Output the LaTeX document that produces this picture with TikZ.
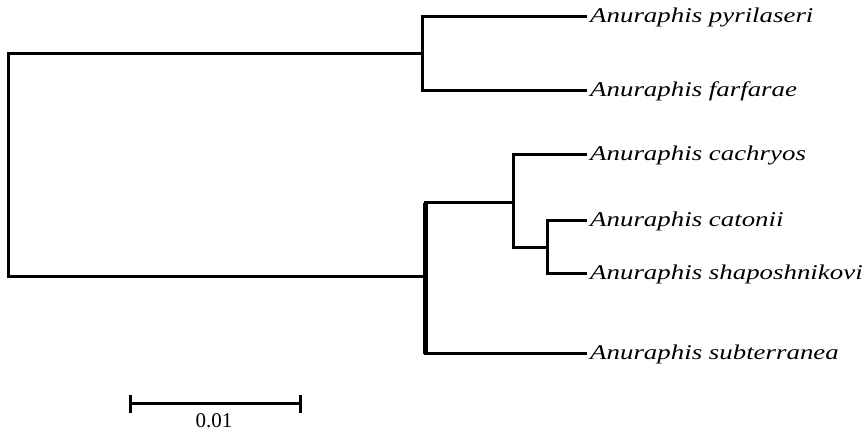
\documentclass[tikz,border=0pt]{standalone}
\usepackage{fontspec}
\setmainfont{Liberation Serif}
\newfontfamily\leaffont[FakeStretch=1.28]{Liberation Serif}
\begin{document}
\begin{tikzpicture}[x=1pt,y=-1pt,
  branch/.style={line width=3pt,line cap=rect},
  leaf/.style={anchor=west,inner sep=0pt,font=\leaffont\fontsize{21}{24}\selectfont\itshape},
  scalelab/.style={inner sep=0pt,font=\fontsize{21}{24}\selectfont}]
\useasboundingbox (0,0) rectangle (868,435);
% internal nodes
\coordinate (root) at (8,163);
\coordinate (nA) at (422,54);
\coordinate (nB) at (425,277);
\coordinate (nC) at (513,203);
\coordinate (nD) at (547,248);
% leaves
\coordinate (l1) at (585,17);
\coordinate (l2) at (585,91);
\coordinate (l3) at (585,155);
\coordinate (l4) at (585,221);
\coordinate (l5) at (585,274);
\coordinate (l6) at (585,354);
\node[leaf] (t1) at (590,17) {Anuraphis pyrilaseri};
\node[leaf] (t2) at (590,91) {Anuraphis farfarae};
\node[leaf] (t3) at (590,155) {Anuraphis cachryos};
\node[leaf] (t4) at (590,221) {Anuraphis catonii};
\node[leaf] (t5) at (590,274) {Anuraphis shaposhnikovi};
\node[leaf] (t6) at (590,354) {Anuraphis subterranea};
% branches
\draw[branch] (nA) -| (root) |- (nB);
\draw[branch] (l1) -| (nA) |- (l2);
\draw[branch] (nC) -| (nB) |- (l6);
\draw[line width=5pt] (nB |- nC) -- (nB |- l6);
\draw[branch] (l3) -| (nC) |- (nD);
\draw[branch] (l4) -| (nD) |- (l5);
% scale bar
\coordinate (s1) at (130,404);
\coordinate (s2) at (300,404);
\draw[line width=3pt] (s1) -- (s2);
\draw[line width=3pt] ([yshift=-9pt]s1) -- ([yshift=9pt]s1);
\draw[line width=3pt] ([yshift=-9pt]s2) -- ([yshift=9pt]s2);
\node[scalelab] (sl) at (214,421) {0.01};
\end{tikzpicture}
\end{document}
